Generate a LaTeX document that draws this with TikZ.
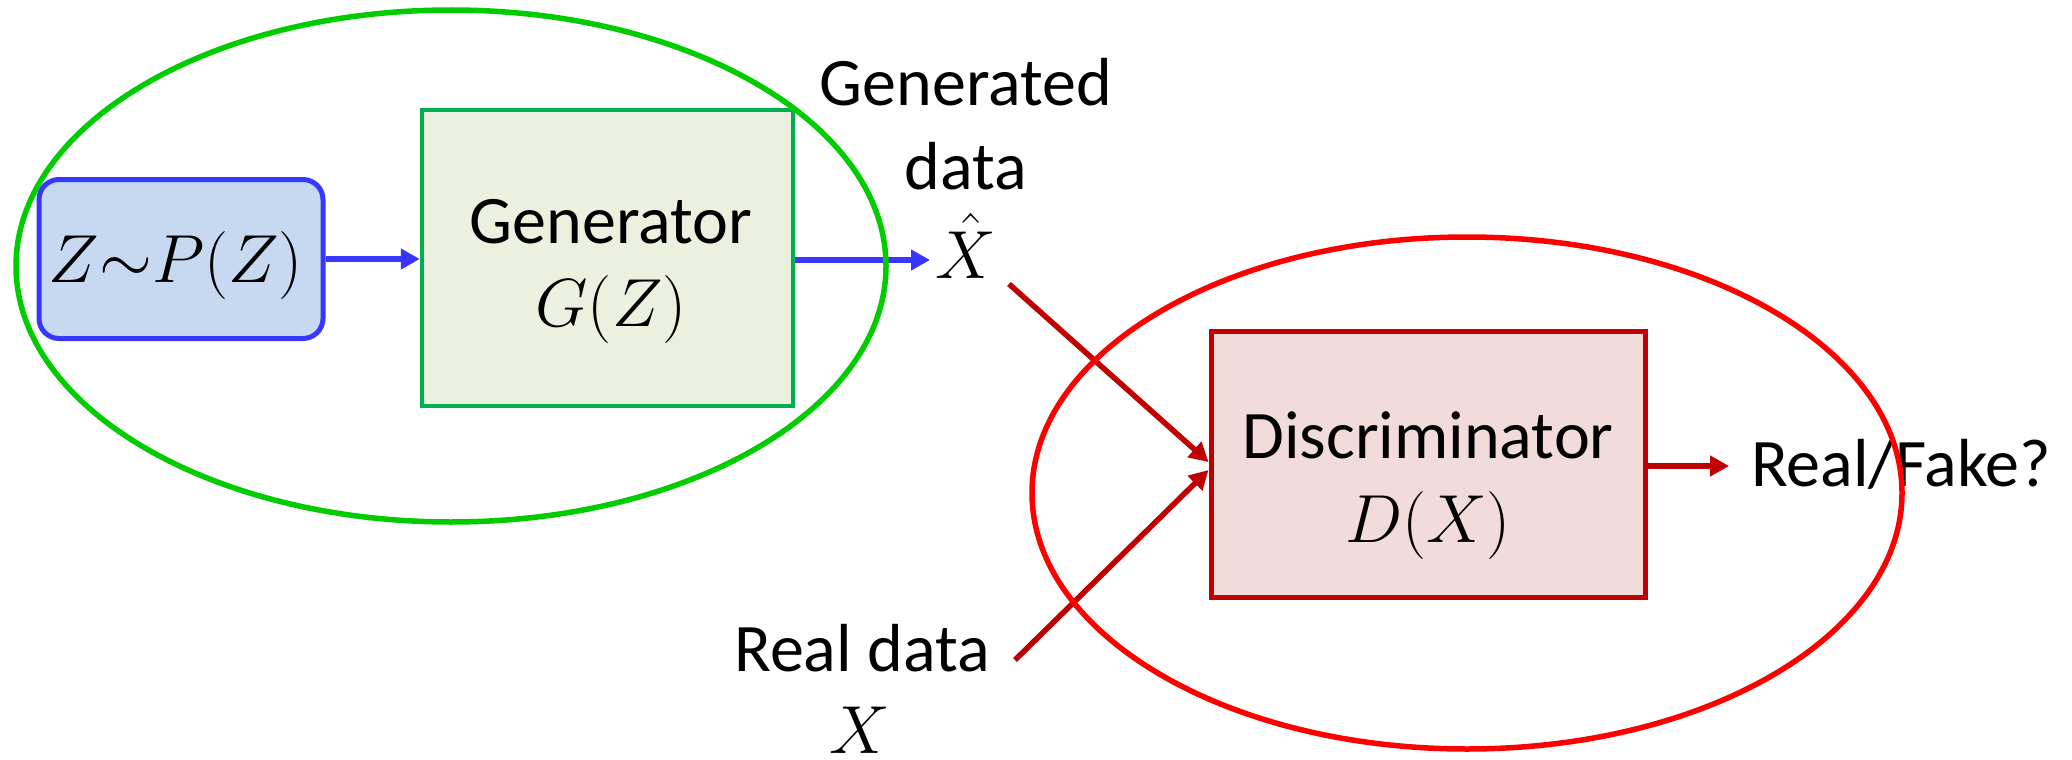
\RequirePackage{fix-cm}
\documentclass[tikz,border=0pt]{standalone}
\usepackage[no-math]{fontspec}
\setmainfont{Carlito}
\usetikzlibrary{arrows.meta}
\definecolor{cblue}{RGB}{55,55,255}
\definecolor{cbluefill}{RGB}{198,217,240}
\definecolor{cgreen}{RGB}{0,204,0}
\definecolor{cgenline}{RGB}{0,176,80}
\definecolor{cgenfill}{RGB}{235,241,222}
\definecolor{cred}{RGB}{255,0,0}
\definecolor{cdred}{RGB}{192,0,0}
\definecolor{cdiscfill}{RGB}{242,220,219}
\tikzset{
  lbl/.style={font=\fontsize{68}{82}\selectfont, inner sep=0pt, anchor=base},
  zstyle/.style={draw=cblue, fill=cbluefill, line width=5pt, rounded corners=20pt, minimum width=284pt, minimum height=159pt, inner sep=0pt},
  genstyle/.style={draw=cgenline, fill=cgenfill, line width=4.5pt, minimum width=371pt, minimum height=296pt, inner sep=0pt},
  discstyle/.style={draw=cdred, fill=cdiscfill, line width=5pt, minimum width=434pt, minimum height=266pt, inner sep=0pt},
  barrow/.style={draw=cblue, line width=6.5pt, -{Triangle[length=19pt,width=20pt]}},
  rarrow/.style={draw=cdred, line width=5.5pt, -{Triangle[length=19pt,width=20pt]}},
  oval/.style={line width=5.5pt}
}
\begin{document}
\begin{tikzpicture}[x=1pt,y=-1pt]
\useasboundingbox (0,0) rectangle (2072,760);
% boxes
\node[zstyle] (zbox) at (181,259) {};
\node[genstyle] (gen) at (607.5,258) {};
\node[discstyle] (disc) at (1428,464) {};
% texts
\node[lbl] (ztxt) at (176,282) {$Z{\sim}P(Z)$};
\node[lbl] (gtxt) at (611,243) {Generator};
\node[lbl] (gmath) at (611,326) {$G(Z)$};
\node[lbl] (dtxt) at (1428,458) {Discriminator};
\node[lbl] (dmath) at (1428,542) {$D(X)$};
\node[lbl] (gd1) at (966,105) {Generated};
\node[lbl] (gd2) at (966,189) {data};
\node[lbl] (xhat) at (966,278) {$\hat{X}$};
\node[lbl] (rd) at (862,671) {Real data};
\node[lbl] (xr) at (860,753) {$X$};
\node[lbl, anchor=base west] (rf) at (1751,486) {Real/Fake?};
% connectors
\coordinate (s1) at (1009,284);
\coordinate (s2) at (1015,660);
\coordinate (genout) at (930,260);
\coordinate (dout) at (1729,466);
\draw[barrow] (zbox.east) -- (gen.west |- zbox.east);
\draw[barrow] (gen.east |- genout) -- (genout);
\draw[rarrow] (s1) -- ([yshift=2pt]disc.west);
\draw[rarrow] (s2) -- ([yshift=-6pt]disc.west);
\draw[rarrow] (disc.east |- dout) -- (dout);
% ovals
\draw[oval, draw=cgreen] (451,266) ellipse [x radius=435pt, y radius=256pt];
\draw[oval, draw=cred] (1467,493) ellipse [x radius=435pt, y radius=256pt];
\end{tikzpicture}
\end{document}
